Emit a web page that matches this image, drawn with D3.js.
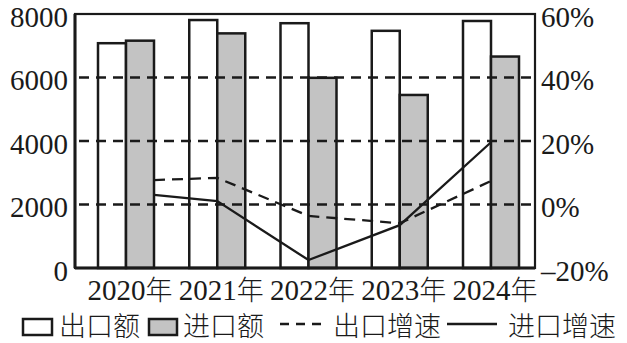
<!DOCTYPE html>
<html>
<head>
<meta charset="utf-8">
<script src="https://cdn.jsdelivr.net/npm/d3@7/dist/d3.min.js"></script>
<style>
  html, body { margin: 0; padding: 0; background: #fff; }
  svg { display: block; }
</style>
</head>
<body>
<svg id="chart" width="627" height="343" font-family="Liberation Serif"></svg>
<script>
// Years on the category axis
const years = ["2020", "2021", "2022", "2023", "2024"];
// Export and import amounts (left axis)
const exportAmount = [7080, 7810, 7710, 7470, 7780];
const importAmount = [7160, 7390, 5990, 5450, 6660];
// Export and import growth rates in % (right axis)
const exportGrowth = [7.7, 8.4, -3.6, -5.9, 7.4];
const importGrowth = [3.0, 1.1, -17.5, -6.5, 19.6];
// Tick values
const leftTicks = [0, 2000, 4000, 6000, 8000];
const rightTicks = [-20, 0, 20, 40, 60];
const gridTicks = [2000, 4000, 6000];

const svg = d3.select("#chart");
const frame = { left: 75, right: 535, top: 14, bottom: 268 };
const barW = 28;
const fill = "#c3c3c3";
const ink = "#1a1a1a";

const x = d3.scalePoint().domain(years).range([126, 491]);
const yL = d3.scaleLinear().domain([0, 8000]).range([frame.bottom, frame.top]);
const yR = d3.scaleLinear().domain([-20, 60]).range([frame.bottom, frame.top]);

// Bars: export (white) left of the year's centre, import (grey) right of it
const rows = years.map((yr, i) => ({ yr, ex: exportAmount[i], im: importAmount[i] }));
const g = svg.append("g");
g.selectAll("rect.ex").data(rows).join("rect")
  .attr("x", d => x(d.yr) - barW).attr("width", barW)
  .attr("y", d => yL(d.ex)).attr("height", d => yL(0) - yL(d.ex))
  .attr("fill", "#fff").attr("stroke", ink).attr("stroke-width", 2.5);
g.selectAll("rect.im").data(rows).join("rect")
  .attr("x", d => x(d.yr)).attr("width", barW)
  .attr("y", d => yL(d.im)).attr("height", d => yL(0) - yL(d.im))
  .attr("fill", fill).attr("stroke", ink).attr("stroke-width", 2.5);

// Dashed gridlines over the bars
svg.append("g").selectAll("line").data(gridTicks).join("line")
  .attr("x1", frame.left + 4).attr("x2", frame.right)
  .attr("y1", d => yL(d)).attr("y2", d => yL(d))
  .attr("stroke", ink).attr("stroke-width", 2.5).attr("stroke-dasharray", "10,7");

// Plot frame
svg.append("rect")
  .attr("x", frame.left).attr("y", frame.top)
  .attr("width", frame.right - frame.left).attr("height", frame.bottom - frame.top)
  .attr("fill", "none").attr("stroke", ink).attr("stroke-width", 2.2);
svg.append("line").attr("x1", frame.left).attr("x2", frame.left)
  .attr("y1", frame.top).attr("y2", frame.bottom)
  .attr("stroke", ink).attr("stroke-width", 3);
svg.append("line").attr("x1", frame.left).attr("x2", frame.right)
  .attr("y1", frame.bottom).attr("y2", frame.bottom)
  .attr("stroke", ink).attr("stroke-width", 3);

// Growth lines: the first point sits at the right edge of the 2020 group
const px = (yr, i) => i === 0 ? x(yr) + barW : x(yr);
const lineGen = d3.line().x(d => d[0]).y(d => d[1]);
const exPts = years.map((yr, i) => [px(yr, i), yR(exportGrowth[i])]);
const imPts = years.map((yr, i) => [px(yr, i), yR(importGrowth[i])]);
svg.append("path").attr("d", lineGen(exPts)).attr("fill", "none")
  .attr("stroke", ink).attr("stroke-width", 2.3).attr("stroke-dasharray", "11,7");
svg.append("path").attr("d", lineGen(imPts)).attr("fill", "none")
  .attr("stroke", ink).attr("stroke-width", 2.3);

// Left axis labels
svg.append("g").selectAll("text").data(leftTicks).join("text")
  .attr("font-family", "Liberation Serif").attr("font-size", 29)
  .attr("x", 68).attr("y", d => yL(d))
  .attr("dy", "0.44em").attr("text-anchor", "end")
  .attr("fill", ink).text(d => String(d));

// Right axis labels
svg.append("g").selectAll("text").data(rightTicks).join("text")
  .attr("font-family", "Liberation Serif").attr("font-size", 29)
  .attr("x", 541).attr("y", d => yR(d))
  .attr("dy", "0.44em").attr("text-anchor", "start")
  .attr("fill", ink)
  .text(d => (d < 0 ? "\u2013" + Math.abs(d) : String(d)) + "%");

// Category labels: serif digits followed by the CJK year character
const cat = svg.append("g").selectAll("text").data(years).join("text")
  .attr("font-family", "Liberation Serif").attr("font-size", 29)
  .attr("x", d => x(d) + 4).attr("y", 300)
  .attr("text-anchor", "middle").attr("fill", ink);
cat.append("tspan").text(d => d);
cat.append("tspan").attr("font-family", "Noto Sans CJK SC").attr("font-weight", 300)
  .attr("font-size", 27).text("年");

// Legend
const leg = svg.append("g");
leg.append("rect").attr("x", 23).attr("y", 319).attr("width", 29).attr("height", 16)
  .attr("fill", "#fff").attr("stroke", ink).attr("stroke-width", 2.5);
leg.append("rect").attr("x", 149).attr("y", 319).attr("width", 28).attr("height", 16)
  .attr("fill", fill).attr("stroke", ink).attr("stroke-width", 2.5);
leg.append("line").attr("x1", 280).attr("x2", 326).attr("y1", 324).attr("y2", 324)
  .attr("stroke", ink).attr("stroke-width", 2.3).attr("stroke-dasharray", "9,7");
leg.append("line").attr("x1", 447).attr("x2", 497).attr("y1", 324).attr("y2", 324)
  .attr("stroke", ink).attr("stroke-width", 2.3);
const legText = [
  { t: "出口额", x: 59 },
  { t: "进口额", x: 183 },
  { t: "出口增速", x: 333 },
  { t: "进口增速", x: 508 }
];
leg.selectAll("text").data(legText).join("text")
  .attr("font-family", "Noto Sans CJK SC").attr("font-weight", 300).attr("font-size", 27)
  .attr("x", d => d.x).attr("y", 336)
  .attr("fill", ink)
  .text(d => d.t);
</script>
</body>
</html>
